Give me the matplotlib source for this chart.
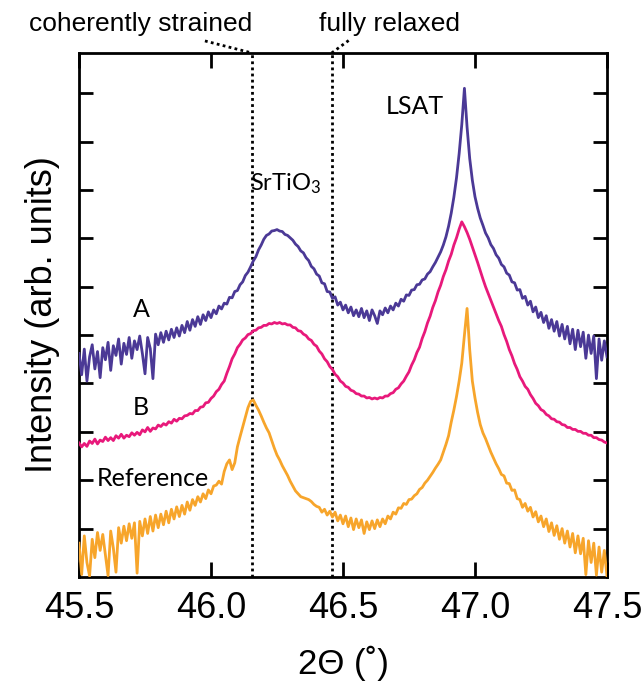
import numpy as np
import matplotlib
matplotlib.use("Agg")
import matplotlib.pyplot as plt

plt.rcParams["mathtext.fontset"] = "custom"
plt.rcParams["mathtext.rm"] = "Lato"
plt.rcParams["mathtext.it"] = "Lato:italic"

# 2-theta scan grid, 0.01 deg steps
two_theta = np.linspace(45.5, 47.5, 201)

# Sample A (offset trace)
sample_a = [
    4.62, 4.18, 4.71, 4.05, 4.55, 4.80, 4.30, 4.66, 4.12, 4.74,
    4.49, 4.85, 4.27, 4.78, 4.58, 4.92, 4.40, 4.83, 4.60, 4.95,
    4.52, 4.88, 4.70, 4.98, 4.62, 4.20, 4.95, 4.72, 4.10, 5.02,
    4.80, 5.05, 4.85, 5.08, 4.90, 5.12, 4.95, 5.15, 4.98, 5.20,
    5.05, 5.28, 5.10, 5.32, 5.18, 5.38, 5.22, 5.42, 5.30, 5.48,
    5.36, 5.52, 5.44, 5.60, 5.54, 5.66, 5.64, 5.78, 5.77, 5.90,
    5.92, 6.04, 6.10, 6.23, 6.30, 6.41, 6.53, 6.62, 6.76, 6.86,
    6.98, 7.06, 7.09, 7.15, 7.16, 7.18, 7.15, 7.14, 7.08, 7.06,
    7.01, 6.96, 6.88, 6.83, 6.74, 6.70, 6.60, 6.54, 6.42, 6.37,
    6.26, 6.22, 6.08, 6.06, 5.90, 5.89, 5.76, 5.79, 5.62, 5.68,
    5.52, 5.62, 5.46, 5.58, 5.40, 5.52, 5.38, 5.55, 5.36, 5.50,
    5.30, 5.52, 5.40, 5.24, 5.50, 5.42, 5.56, 5.46, 5.60, 5.52,
    5.66, 5.60, 5.74, 5.70, 5.83, 5.82, 5.93, 5.94, 6.04, 6.05,
    6.14, 6.16, 6.26, 6.31, 6.41, 6.50, 6.61, 6.72, 6.86, 7.03,
    7.25, 7.52, 7.85, 8.25, 8.75, 9.35, 10.10, 9.30, 8.65, 8.20,
    7.86, 7.62, 7.42, 7.27, 7.11, 7.01, 6.87, 6.79, 6.66, 6.59,
    6.46, 6.41, 6.28, 6.24, 6.10, 6.08, 5.93, 5.94, 5.76, 5.80,
    5.62, 5.70, 5.48, 5.58, 5.36, 5.47, 5.26, 5.40, 5.14, 5.32,
    5.08, 5.28, 4.98, 5.22, 4.92, 5.18, 4.82, 5.12, 4.70, 5.10,
    4.76, 5.06, 4.52, 5.00, 4.62, 4.98, 4.10, 4.92, 4.48, 4.88,
    4.55,
]

# Sample B (offset trace)
sample_b = [
    2.77, 2.69, 2.76, 2.70, 2.81, 2.76, 2.85, 2.75, 2.83, 2.80,
    2.89, 2.82, 2.88, 2.82, 2.92, 2.87, 2.95, 2.87, 2.93, 2.90,
    2.98, 2.93, 2.99, 2.94, 3.04, 3.00, 3.09, 3.01, 3.08, 3.06,
    3.14, 3.11, 3.17, 3.14, 3.21, 3.18, 3.26, 3.22, 3.28, 3.27,
    3.33, 3.34, 3.38, 3.37, 3.44, 3.44, 3.51, 3.52, 3.60, 3.61,
    3.69, 3.74, 3.83, 3.88, 3.98, 4.05, 4.21, 4.35, 4.51, 4.61,
    4.74, 4.81, 4.90, 4.94, 5.01, 5.03, 5.09, 5.10, 5.15, 5.16,
    5.20, 5.20, 5.24, 5.23, 5.26, 5.24, 5.26, 5.23, 5.24, 5.21,
    5.21, 5.16, 5.15, 5.09, 5.08, 5.02, 4.99, 4.92, 4.89, 4.81,
    4.77, 4.67, 4.61, 4.51, 4.45, 4.35, 4.29, 4.19, 4.14, 4.05,
    4.01, 3.94, 3.92, 3.86, 3.84, 3.79, 3.78, 3.74, 3.74, 3.70,
    3.71, 3.68, 3.70, 3.68, 3.71, 3.70, 3.74, 3.74, 3.79, 3.81,
    3.88, 3.91, 3.99, 4.05, 4.15, 4.24, 4.38, 4.49, 4.64, 4.75,
    4.93, 5.07, 5.25, 5.39, 5.57, 5.71, 5.89, 6.03, 6.21, 6.35,
    6.53, 6.67, 6.86, 7.01, 7.19, 7.34, 7.24, 7.12, 6.98, 6.82,
    6.66, 6.50, 6.33, 6.16, 6.00, 5.86, 5.72, 5.58, 5.44, 5.30,
    5.18, 5.01, 4.87, 4.70, 4.57, 4.41, 4.29, 4.14, 4.05, 3.94,
    3.88, 3.77, 3.69, 3.59, 3.54, 3.46, 3.43, 3.36, 3.33, 3.27,
    3.26, 3.21, 3.20, 3.15, 3.14, 3.09, 3.09, 3.05, 3.05, 3.01,
    3.01, 2.97, 2.97, 2.93, 2.93, 2.88, 2.88, 2.84, 2.83, 2.79,
    2.77,
]

# Reference film
reference = [
    0.70, 0.05, 0.85, 0.30, 0.02, 0.78, 0.40, 0.92, 0.55, 0.88,
    0.45, 0.03, 0.95, 0.60, 0.10, 1.02, 0.70, 1.05, 0.75, 1.10,
    0.80, 1.12, 0.08, 1.15, 0.85, 1.20, 0.90, 1.25, 0.95, 1.28,
    1.02, 1.30, 1.08, 1.36, 1.12, 1.40, 1.20, 1.45, 1.25, 1.48,
    1.30, 1.55, 1.38, 1.60, 1.48, 1.66, 1.55, 1.72, 1.62, 1.80,
    1.72, 1.88, 1.90, 1.98, 1.92, 2.18, 2.34, 2.42, 2.22, 2.36,
    2.69, 2.90, 3.10, 3.30, 3.50, 3.63, 3.66, 3.55, 3.45, 3.33,
    3.20, 3.08, 2.98, 2.82, 2.66, 2.52, 2.42, 2.30, 2.20, 2.10,
    1.98, 1.88, 1.78, 1.72, 1.66, 1.64, 1.62, 1.60, 1.56, 1.50,
    1.46, 1.44, 1.34, 1.40, 1.28, 1.36, 1.24, 1.34, 1.16, 1.28,
    1.10, 1.26, 1.04, 1.22, 0.98, 1.20, 1.02, 1.18, 0.90, 1.14,
    0.98, 1.16, 1.00, 1.18, 1.04, 1.20, 1.10, 1.26, 1.20, 1.34,
    1.30, 1.43, 1.42, 1.52, 1.50, 1.60, 1.61, 1.68, 1.72, 1.81,
    1.85, 1.94, 2.00, 2.08, 2.16, 2.25, 2.33, 2.42, 2.58, 2.74,
    2.92, 3.20, 3.45, 3.73, 4.05, 4.42, 5.00, 5.55, 4.70, 4.05,
    3.70, 3.40, 3.15, 2.98, 2.86, 2.72, 2.58, 2.46, 2.34, 2.24,
    2.12, 2.09, 1.94, 1.93, 1.79, 1.80, 1.62, 1.60, 1.44, 1.52,
    1.36, 1.44, 1.24, 1.35, 1.14, 1.26, 1.04, 1.20, 0.94, 1.12,
    0.86, 1.06, 0.78, 1.00, 0.70, 0.95, 0.62, 0.90, 0.50, 0.85,
    0.48, 0.80, 0.05, 0.75, 0.30, 0.70, 0.04, 0.62, 0.10, 0.55,
    0.02,
]

series_colors = {"A": "#4b3996", "B": "#e8197b", "Reference": "#f7a52b"}
strained_pos = 46.155   # coherently strained SrTiO3 peak
relaxed_pos = 46.457    # fully relaxed SrTiO3 peak

fig = plt.figure(figsize=(6.44, 6.81), dpi=100)
ax = fig.add_axes([0.1227, 0.1527, 0.8198, 0.7695])

ax.plot(two_theta, reference, color=series_colors["Reference"], lw=2.0, zorder=3)
ax.plot(two_theta, sample_b, color=series_colors["B"], lw=2.0, zorder=3)
ax.plot(two_theta, sample_a, color=series_colors["A"], lw=2.0, zorder=3)

dots = (0, (1, 1.2))
for xpos in (strained_pos, relaxed_pos):
    ax.axvline(xpos, color="black", lw=2.0, ls=dots, zorder=2)

ax.set_xlim(45.5, 47.5)
ax.set_ylim(0, 10.83)
ax.set_xticks([45.5, 46.0, 46.5, 47.0, 47.5])
ax.set_xticklabels(["45.5", "46.0", "46.5", "47.0", "47.5"])
ax.set_yticks(np.arange(1, 11))
ax.set_yticklabels([])

for sp in ax.spines.values():
    sp.set_linewidth(2)
ax.tick_params(axis="both", direction="in", width=2, top=True, right=True)
ax.tick_params(axis="x", length=11, pad=10)
ax.tick_params(axis="y", length=10)
for lab in ax.get_xticklabels():
    lab.set_fontfamily("Liberation Sans")
    lab.set_fontsize(26)

ax.set_xlabel("2\u0398 (\u02DA)", fontfamily="Liberation Sans", fontsize=25, labelpad=14)
ax.set_ylabel("Intensity (arb. units)", fontfamily="Liberation Sans", fontsize=26, labelpad=10)

# Curve labels
lbl = dict(fontfamily="Lato", fontsize=18, ha="center", va="center", color="black")
ax.text(45.735, 5.52, "A", **lbl)
ax.text(45.735, 3.50, "B", **lbl)
ax.text(45.78, 2.03, "Reference", **lbl)
ax.text(46.773, 9.73, "LSAT", **lbl)
ax.text(46.283, 8.12, "SrTiO$_3$", fontfamily="Lato", fontsize=17, ha="center",
        va="center", color="black")

# Peak-position labels above the frame with dotted leaders
top = dict(fontfamily="Liberation Sans", fontsize=19, ha="center", va="baseline",
           transform=ax.get_xaxis_transform(), clip_on=False)
ax.text(45.735, 1.042, "coherently strained", **top)
ax.text(46.678, 1.042, "fully relaxed", **top)
ax.plot([45.977, strained_pos], [1.023, 1.0], transform=ax.get_xaxis_transform(),
        color="black", lw=2.0, ls=dots, clip_on=False)
ax.plot([relaxed_pos, 46.53], [1.0, 1.027], transform=ax.get_xaxis_transform(),
        color="black", lw=2.0, ls=dots, clip_on=False)

fig.savefig("out.png", dpi=100)
